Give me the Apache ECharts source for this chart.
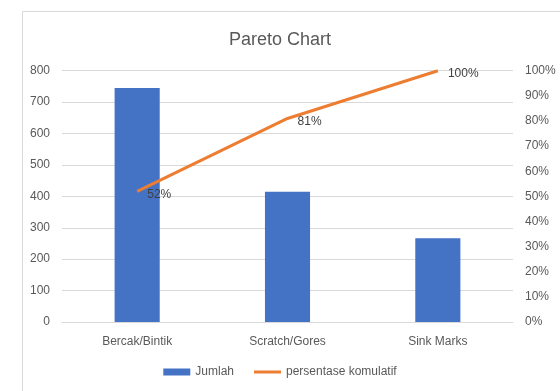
<!DOCTYPE html>
<html><head><meta charset="utf-8">
<script src="https://cdn.jsdelivr.net/npm/echarts@6/dist/echarts.min.js"></script>
<style>html,body{margin:0;padding:0;background:#fff}#c{width:560px;height:391px}</style>
</head><body><div id="c"></div>
<script>
const categories = ['Bercak/Bintik', 'Scratch/Gores', 'Sink Marks'];
const jumlah = [745, 415, 267];
const persentase = [52, 81, 100];
const leftTicks = [0, 800, 100];
const rightTicks = [0, 100, 10];

const chart = echarts.init(document.getElementById('c'));
const txt = '#595959';
const font = 'Liberation Sans';
chart.setOption({
  animation: false,
  textStyle: {fontFamily: font},
  graphic: [{type: 'rect', shape: {x: 22.5, y: 11.5, width: 560, height: 400}, style: {fill: 'none', stroke: '#d9d9d9', lineWidth: 1}}],
  title: {text: 'Pareto Chart', left: 'center', top: 26, textStyle: {fontFamily: font, fontWeight: 'normal', fontSize: 18, color: txt}},
  legend: {bottom: 8, left: 'center', itemGap: 20, textStyle: {color: txt, fontSize: 12, fontFamily: font},
    itemWidth: 27, itemHeight: 7,
    data: [{name: 'Jumlah', icon: 'rect'},
           {name: 'persentase komulatif', icon: 'path://M0,0 H27 V3 H0 Z', itemStyle: {color: '#ED7D31'}}]},
  grid: {left: 62, right: 47, top: 70.7, bottom: 69},
  xAxis: {type: 'category', data: categories, axisTick: {show: false},
    axisLine: {lineStyle: {color: '#d9d9d9'}}, axisLabel: {color: txt, fontSize: 12, margin: 14}},
  yAxis: [
    {type: 'value', min: leftTicks[0], max: leftTicks[1], interval: leftTicks[2],
      axisLabel: {color: txt, fontSize: 12, margin: 12}, splitLine: {lineStyle: {color: '#d9d9d9'}}},
    {type: 'value', min: rightTicks[0], max: rightTicks[1], interval: rightTicks[2],
      axisLabel: {color: txt, fontSize: 12, formatter: '{value}%', margin: 12}, splitLine: {show: false}}
  ],
  series: [
    {name: 'Jumlah', type: 'bar', data: jumlah, barWidth: '30%', itemStyle: {color: '#4472C4'}},
    {name: 'persentase komulatif', type: 'line', yAxisIndex: 1, data: persentase, symbol: 'circle', symbolSize: 0.1,
      lineStyle: {color: '#ED7D31', width: 3}, itemStyle: {color: '#ED7D31'},
      label: {show: true, position: 'right', formatter: '{c}%', color: '#404040', fontSize: 12, distance: 10, offset: [0, 3]}}
  ]
});
</script></body></html>
